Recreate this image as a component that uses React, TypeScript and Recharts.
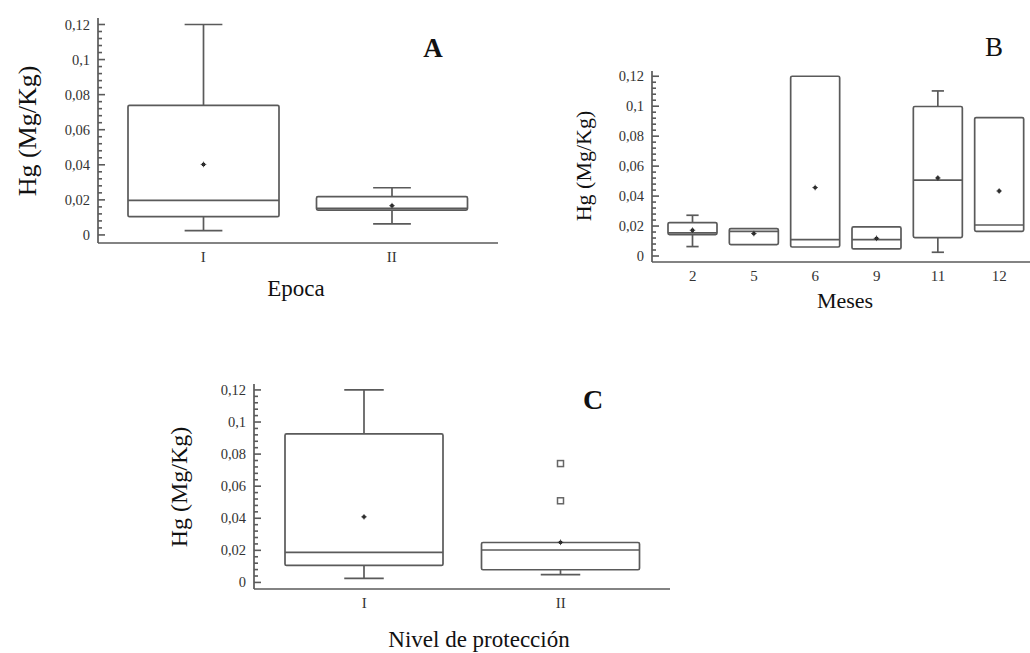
import React from "react";
import { ComposedChart, Bar, XAxis, YAxis } from "recharts";

const FONT = "'Liberation Serif', 'Times New Roman', serif";
const LINE = "#5a5a5a";
const TEXT = "#333";

// y axis: labelled ticks every 0,02 with 4 minor ticks in between
const yMajorTicks = [0, 0.02, 0.04, 0.06, 0.08, 0.1, 0.12];
const yMinorPerMajor = 5;

// A - Epoca
const epocaCats = ["I", "II"];
const epocaLow = [0.0025, 0.0063];
const epocaQ1 = [0.0104, 0.0142];
const epocaMedian = [0.0197, 0.0152];
const epocaQ3 = [0.0739, 0.0218];
const epocaHigh = [0.12, 0.0269];
const epocaMean = [0.0402, 0.0167];
const epocaOutliers: number[][] = [[], []];

// B - Meses
const mesesCats = ["2", "5", "6", "9", "11", "12"];
const mesesLow = [0.0063, 0.0076, 0.006, 0.0047, 0.0025, 0.0165];
const mesesQ1 = [0.0143, 0.0076, 0.006, 0.0047, 0.0123, 0.0165];
const mesesMedian = [0.0154, 0.0165, 0.0109, 0.0109, 0.0506, 0.0207];
const mesesQ3 = [0.0223, 0.0183, 0.12, 0.0194, 0.0998, 0.0924];
const mesesHigh = [0.0272, 0.0183, 0.12, 0.0194, 0.1102, 0.0924];
const mesesMean = [0.0172, 0.015, 0.0457, 0.0118, 0.0521, 0.0434];
const mesesOutliers: number[][] = [[], [], [], [], [], []];

// C - Nivel de protección
const nivelCats = ["I", "II"];
const nivelLow = [0.0025, 0.0048];
const nivelQ1 = [0.0106, 0.0079];
const nivelMedian = [0.0187, 0.0202];
const nivelQ3 = [0.0926, 0.0249];
const nivelHigh = [0.12, 0.0249];
const nivelMean = [0.0409, 0.025];
const nivelOutliers: number[][] = [[], [0.0741, 0.0509]];

const yTicks: number[] = [];
for (let i = 0; i < yMajorTicks.length - 1; i++) {
  const step = (yMajorTicks[i + 1] - yMajorTicks[i]) / yMinorPerMajor;
  for (let j = 0; j < yMinorPerMajor; j++) yTicks.push(yMajorTicks[i] + j * step);
}
yTicks.push(yMajorTicks[yMajorTicks.length - 1]);

const isMajor = (v: number) => yMajorTicks.some((m) => Math.abs(m - v) < 1e-7);

function buildRows(
  cats: string[],
  low: number[],
  q1: number[],
  median: number[],
  q3: number[],
  high: number[],
  mean: number[],
  outliers: number[][]
) {
  return cats.map((cat, i) => ({
    cat,
    range: [Math.min(low[i], q1[i]), Math.max(high[i], q3[i])],
    low: low[i],
    q1: q1[i],
    median: median[i],
    q3: q3[i],
    high: high[i],
    mean: mean[i],
    outliers: outliers[i],
  }));
}

const epocaRows = buildRows(epocaCats, epocaLow, epocaQ1, epocaMedian, epocaQ3, epocaHigh, epocaMean, epocaOutliers);
const mesesRows = buildRows(mesesCats, mesesLow, mesesQ1, mesesMedian, mesesQ3, mesesHigh, mesesMean, mesesOutliers);
const nivelRows = buildRows(nivelCats, nivelLow, nivelQ1, nivelMedian, nivelQ3, nivelHigh, nivelMean, nivelOutliers);

const TICK_MARGIN = 8;

function formatTick(v: number) {
  if (Math.abs(v) < 1e-9) return "0";
  return String(+v.toFixed(3)).replace(".", ",");
}

// inward tick marks (longer on labelled values) + label left of the axis
function YTick(props: any) {
  const x = Number(props.x);
  const y = Number(props.y);
  const v = Number(props.payload.value);
  const major = isMajor(v);
  const axisX = x + TICK_MARGIN;
  return (
    <g>
      <line x1={axisX} x2={axisX + (major ? 7 : 4)} y1={y} y2={y} stroke={LINE} strokeWidth={1.6} />
      {major && (
        <text x={x} y={y} dy="0.35em" textAnchor="end" fontFamily={FONT} fontSize={14.5} fill={TEXT}>
          {formatTick(v)}
        </text>
      )}
    </g>
  );
}

// draws box, median, whiskers, mean and outliers; pixel positions come from the bar rect the
// y scale produced for the [min, max] range
function BoxShape(props: any) {
  const { payload } = props;
  const x = Number(props.x);
  const y = Number(props.y);
  const width = Number(props.width);
  const height = Number(props.height);
  const [lo, hi] = payload.range as number[];
  const py = (v: number) => y + (height * (hi - v)) / (hi - lo);
  const cx = x + width / 2;
  const cap = width * 0.25;
  const top = py(payload.q3);
  const bottom = py(payload.q1);
  const my = py(payload.mean);
  return (
    <g stroke={LINE} strokeWidth={1.7} fill="none">
      {payload.high > payload.q3 && (
        <>
          <line x1={cx} x2={cx} y1={py(payload.high)} y2={top} />
          <line x1={cx - cap / 2} x2={cx + cap / 2} y1={py(payload.high)} y2={py(payload.high)} />
        </>
      )}
      {payload.low < payload.q1 && (
        <>
          <line x1={cx} x2={cx} y1={bottom} y2={py(payload.low)} />
          <line x1={cx - cap / 2} x2={cx + cap / 2} y1={py(payload.low)} y2={py(payload.low)} />
        </>
      )}
      <rect x={x} y={top} width={width} height={bottom - top} rx={1.5} fill="#fff" />
      <line x1={x} x2={x + width} y1={py(payload.median)} y2={py(payload.median)} />
      <g stroke="#333" strokeWidth={0.8}>
        <circle cx={cx} cy={my} r={1.9} fill="#222" stroke="none" />
        <line x1={cx - 2.8} x2={cx + 2.8} y1={my} y2={my} />
        <line x1={cx} x2={cx} y1={my - 2.8} y2={my + 2.8} />
      </g>
      {(payload.outliers as number[]).map((o, i) => (
        <rect key={i} x={cx - 3} y={py(o) - 3} width={6} height={6} stroke="#666" strokeWidth={1.5} fill="#fff" />
      ))}
    </g>
  );
}

interface BoxChartProps {
  rows: any[];
  left: number;
  top: number;
  width: number;
  height: number;
  axisWidth: number;
  margin: { top: number; right: number; bottom: number };
  domain: [number, number];
  padding: { left: number; right: number };
  barSize: number;
}

function BoxChart(p: BoxChartProps) {
  return (
    <div style={{ position: "absolute", left: p.left, top: p.top }}>
      <ComposedChart
        width={p.width}
        height={p.height}
        data={p.rows}
        margin={{ top: p.margin.top, right: p.margin.right, bottom: p.margin.bottom, left: 0 }}
      >
        <XAxis
          dataKey="cat"
          type="category"
          height={30}
          padding={p.padding}
          axisLine={{ stroke: LINE, strokeWidth: 1.7 }}
          tickLine={false}
          tick={{ fontFamily: FONT, fontSize: 15, fill: TEXT }}
          interval={0}
        />
        <YAxis
          type="number"
          width={p.axisWidth}
          domain={p.domain}
          allowDataOverflow
          ticks={yTicks}
          interval={0}
          tickLine={false}
          tickSize={0}
          tickMargin={TICK_MARGIN}
          axisLine={{ stroke: LINE, strokeWidth: 1.7 }}
          tick={<YTick />}
        />
        <Bar dataKey="range" barSize={p.barSize} shape={<BoxShape />} isAnimationActive={false} />
      </ComposedChart>
    </div>
  );
}

export default function App() {
  return (
    <div
      style={{
        position: "absolute",
        left: 0,
        top: 0,
        width: 1030,
        height: 653,
        background: "#fff",
        overflow: "hidden",
      }}
    >
      <BoxChart
        rows={epocaRows}
        left={0}
        top={0}
        width={510}
        height={320}
        axisWidth={98}
        margin={{ top: 18, right: 12, bottom: 47 }}
        domain={[-0.0046, 0.1237]}
        padding={{ left: 11, right: 12 }}
        barSize={151}
      />
      <BoxChart
        rows={mesesRows}
        left={520}
        top={0}
        width={510}
        height={330}
        axisWidth={132}
        margin={{ top: 71, right: 0, bottom: 38 }}
        domain={[-0.004, 0.1235]}
        padding={{ left: 10, right: 0 }}
        barSize={49}
      />
      <BoxChart
        rows={nivelRows}
        left={150}
        top={360}
        width={520}
        height={293}
        axisWidth={104}
        margin={{ top: 24, right: 0, bottom: 34 }}
        domain={[-0.0041, 0.1237]}
        padding={{ left: 12, right: 11 }}
        barSize={158}
      />
      <svg
        width={1030}
        height={653}
        style={{ position: "absolute", left: 0, top: 0, pointerEvents: "none" }}
        fontFamily={FONT}
        fill="#111"
      >
        <text x={433} y={57} textAnchor="middle" fontSize={27} fontWeight="bold">A</text>
        <text x={994} y={56} textAnchor="middle" fontSize={27}>B</text>
        <text x={593} y={409} textAnchor="middle" fontSize={28} fontWeight="bold">C</text>

        <text transform="translate(27,131) rotate(-90)" textAnchor="middle" dominantBaseline="central" fontSize={26}>
          Hg (Mg/Kg)
        </text>
        <text transform="translate(583,166) rotate(-90)" textAnchor="middle" dominantBaseline="central" fontSize={22}>
          Hg (Mg/Kg)
        </text>
        <text transform="translate(179,487) rotate(-90)" textAnchor="middle" dominantBaseline="central" fontSize={24}>
          Hg (Mg/Kg)
        </text>

        <text x={296} y={296} textAnchor="middle" fontSize={23}>Epoca</text>
        <text x={845} y={308} textAnchor="middle" fontSize={22}>Meses</text>
        <text x={479} y={647} textAnchor="middle" fontSize={23}>Nivel de protección</text>
      </svg>
    </div>
  );
}
